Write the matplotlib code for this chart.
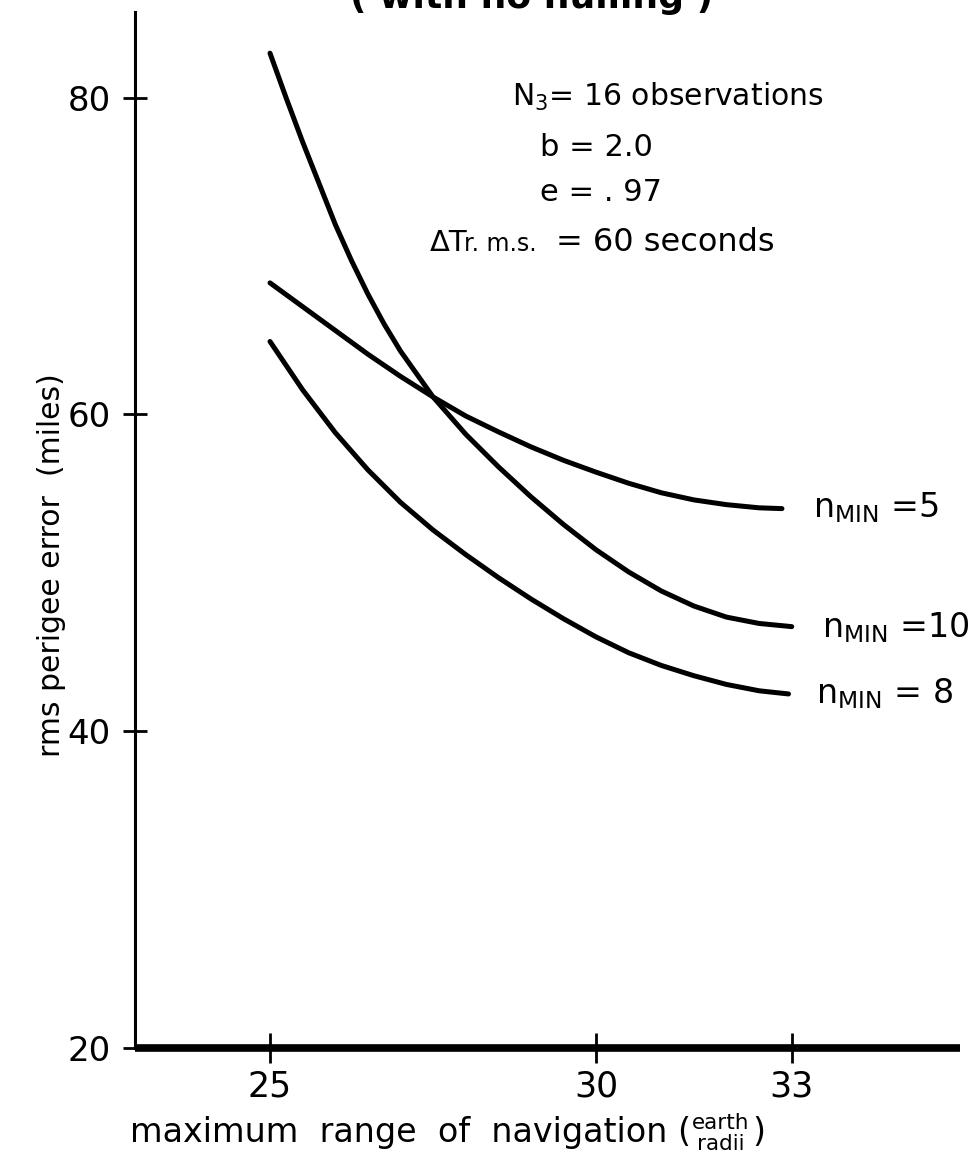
import matplotlib
matplotlib.use("Agg")
import matplotlib.pyplot as plt

# ---------------- data ----------------
n5_x = [25.0, 25.5, 26.0, 26.5, 27.0, 27.5, 28.0, 28.5, 29.0, 29.5, 30.0,
        30.5, 31.0, 31.5, 32.0, 32.5, 32.85]
n5_y = [68.3, 66.8, 65.3, 63.8, 62.4, 61.1, 59.9, 58.9, 57.95, 57.1, 56.35,
        55.65, 55.05, 54.6, 54.3, 54.1, 54.05]

n10_x = [25.0, 25.25, 25.5, 25.75, 26.0, 26.25, 26.5, 26.75, 27.0, 27.5, 28.0,
         28.5, 29.0, 29.5, 30.0, 30.5, 31.0, 31.5, 32.0, 32.5, 33.0]
n10_y = [82.8, 79.95, 77.2, 74.6, 72.0, 69.7, 67.6, 65.7, 64.0, 61.1, 58.75,
         56.7, 54.8, 53.05, 51.45, 50.05, 48.85, 47.9, 47.2, 46.8, 46.6]

n8_x = [25.0, 25.5, 26.0, 26.5, 27.0, 27.5, 28.0, 28.5, 29.0, 29.5, 30.0,
        30.5, 31.0, 31.5, 32.0, 32.5, 32.95]
n8_y = [64.6, 61.55, 58.85, 56.5, 54.45, 52.7, 51.15, 49.7, 48.35, 47.1, 45.95,
        44.95, 44.15, 43.5, 42.95, 42.55, 42.35]

curve_labels = [r"n$_{\mathregular{MIN}}$ =5", r"n$_{\mathregular{MIN}}$ =10",
                r"n$_{\mathregular{MIN}}$ = 8"]

x_ticks = [25, 30, 33]
x_ticklabels = ["25", "30", "33"]
y_ticks = [20, 40, 60, 80]
y_ticklabels = ["20", "40", "60", "80"]

W, H = 971, 1166
fig = plt.figure(figsize=(W / 100, H / 100), dpi=100)
fig.patch.set_facecolor("white")

def fx(px):
    return px / W

def fy(py):
    return 1 - py / H

ax = fig.add_axes([fx(135), fy(1048), fx(960) - fx(135), fy(12) - fy(1048)])
ax.set_xlim(22.93, 35.58)
ax.set_ylim(20, 85.4)

curves = [(n5_x, n5_y), (n10_x, n10_y), (n8_x, n8_y)]
for xs, ys in curves:
    ax.plot(xs, ys, color="black", lw=3.6, solid_capstyle="round",
            solid_joinstyle="round")

# curve labels at the curve ends
offs = [(22, 1), (22, -1), (20, 0)]
for (xs, ys), lab, off in zip(curves, curve_labels, offs):
    ax.annotate(lab, xy=(xs[-1], ys[-1]), xytext=off, textcoords="offset points",
                ha="left", va="center", fontsize=24)

# spines
for s in ["top", "right"]:
    ax.spines[s].set_visible(False)
ax.spines["left"].set_linewidth(2.2)
ax.spines["bottom"].set_linewidth(5.5)
ax.spines["bottom"].set_capstyle("butt")

ax.set_xticks(x_ticks)
ax.set_xticklabels(x_ticklabels)
ax.set_yticks(y_ticks)
ax.set_yticklabels(y_ticklabels)
ax.tick_params(axis="x", direction="inout", length=21.6, width=2, pad=5,
               labelsize=25)
ax.tick_params(axis="y", direction="inout", length=17, width=2, pad=9,
               labelsize=24.5)

# annotation block
ax.text(28.71, 79.5, r"N$_3$= 16 observations", fontsize=21.5, va="baseline")
ax.text(29.14, 76.3, "b = 2.0", fontsize=22, va="baseline")
ax.text(29.14, 73.5, "e = . 97", fontsize=22, va="baseline")
ax.text(27.45, 70.3, "\u0394T", fontsize=21, va="baseline")
ax.text(27.98, 70.3, "r. m.s.", fontsize=17, va="baseline")
ax.text(29.38, 70.3, "= 60 seconds", fontsize=23, va="baseline")

# y label
fig.text(fx(52), fy(565), "rms perigee error  (miles)", rotation=90,
         ha="center", va="center", fontsize=21.5)

# x label pieces
fig.text(fx(130), fy(1142), "maximum  range  of  navigation (", ha="left",
         va="baseline", fontsize=24)
fig.text(fx(721), fy(1129), "earth", ha="center", va="baseline", fontsize=15.5)
fig.text(fx(721), fy(1150), "radii", ha="center", va="baseline", fontsize=15.5)
fig.text(fx(752), fy(1142), ")", ha="left", va="baseline", fontsize=24)

# title (cut off at the top edge in the reference)
fig.text(fx(532), fy(8), "( with no nulling )", ha="center", va="baseline",
         fontsize=26, fontweight="bold")

fig.savefig("out.png", dpi=100, facecolor="white")
